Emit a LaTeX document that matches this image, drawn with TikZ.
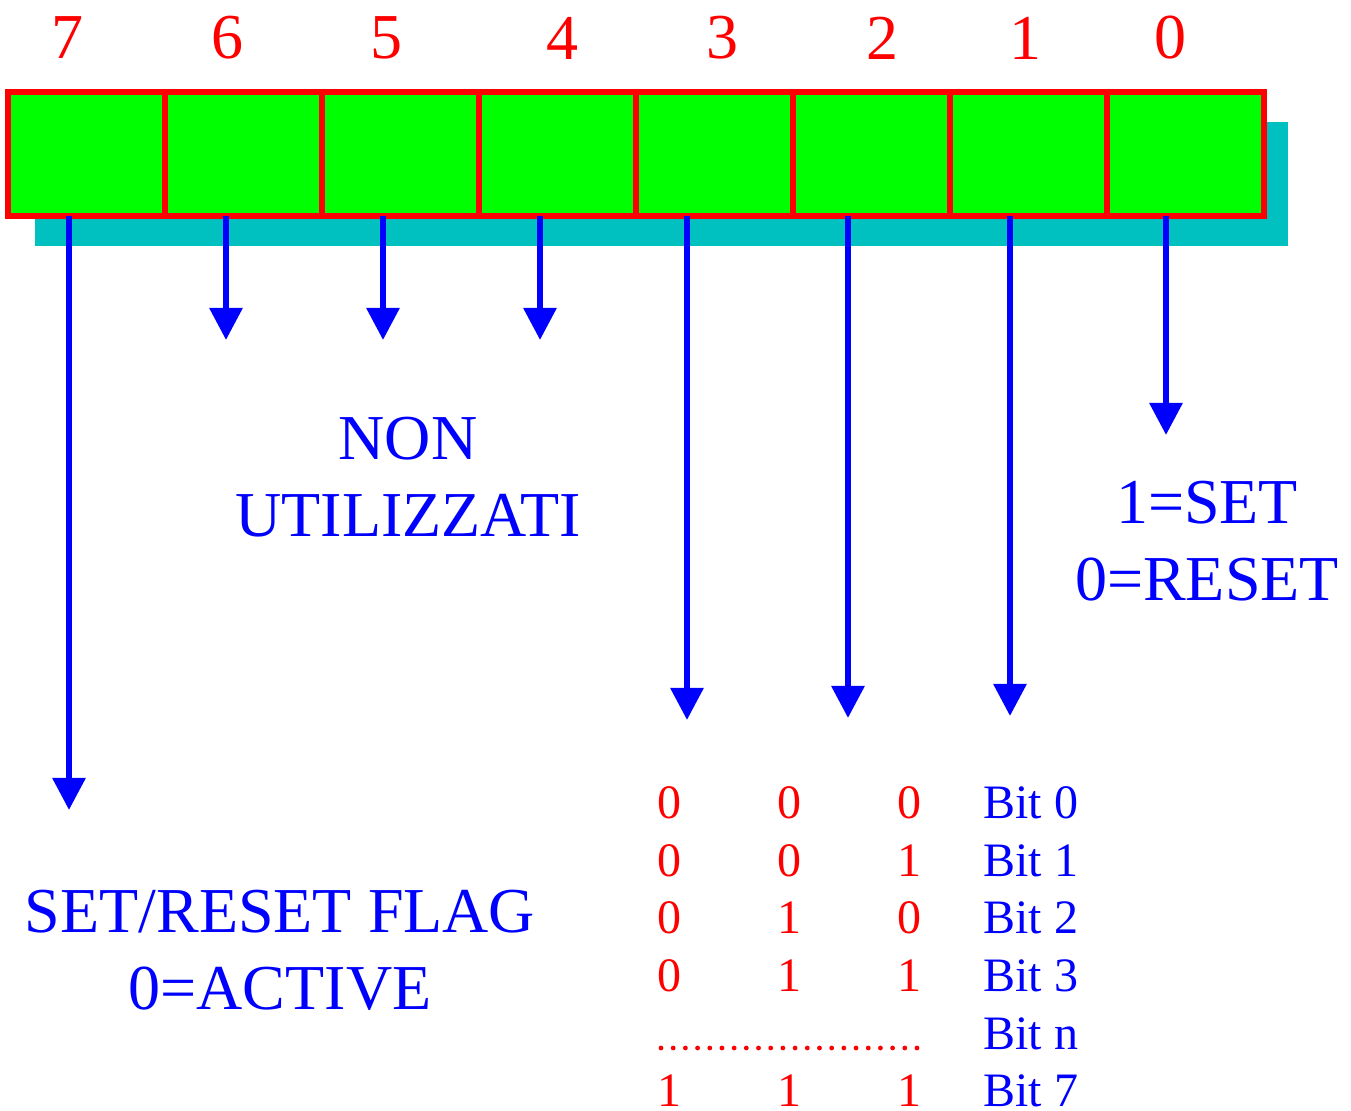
\documentclass[tikz,border=0pt]{standalone}
\usepackage{fontspec}
\setmainfont{Liberation Serif}
\usetikzlibrary{arrows.meta, positioning}
\definecolor{regred}{RGB}{255,0,0}
\definecolor{reggreen}{RGB}{0,255,0}
\definecolor{regshadow}{RGB}{0,192,192}
\definecolor{regblue}{RGB}{0,0,255}

\begin{document}
\begin{tikzpicture}[x=0.5pt, y=-0.5pt,
        cell/.style={draw=regred, fill=reggreen, line width=3pt, minimum width=78.5pt, minimum height=62pt, inner sep=0pt, outer sep=0pt},
        bitnum/.style={text=regred, font=\fontsize{32}{38}\selectfont},
        note/.style={text=regblue, align=center, font=\fontsize{32}{38.5}\selectfont},
        arr/.style={draw=regblue, line width=3pt, -{Triangle[width=16pt,length=16pt]}},
        tab/.style={text=regred, font=\fontsize{24}{28}\selectfont},
        bitname/.style={text=regblue, anchor=west, inner sep=0pt, font=\fontsize{24}{28}\selectfont}
    ]
        \useasboundingbox (0,0) rectangle (1351,1111);

        % Shadow
        \fill[regshadow] (35,122) rectangle (1288,246);

        % Register cells
        \foreach \b/\x in {7/86.5, 6/243.5, 5/400.5, 4/557.5, 3/714.5, 2/871.5, 1/1028.5, 0/1185.5}
            \node[cell] (c\b) at (\x,154) {};

        % Bit numbers
        \foreach \b/\x in {7/68, 6/227, 5/386, 4/562, 3/722, 2/882, 1/1025, 0/1170}
            \node[bitnum] (n\b) at (\x,38) {\b};

        % Arrows
        \foreach \b/\x/\y in {7/69/810, 6/226/340, 5/383/340, 4/540/340, 3/687/720, 2/848/718, 1/1010/716, 0/1166/435} {
            \coordinate (e\b) at (\x,\y);
            \draw[arr] (c\b.south -| e\b) -- (e\b);
        }

        % Labels
        \node[note] (unused) at (408,477) {NON\\UTILIZZATI};
        \node[note] (setreset) at (1207,541) {1=SET\\0=RESET};
        \node[note] (flag) at (280,950) {SET/RESET FLAG\\0=ACTIVE};

        % Table
        \foreach \r/\y/\p/\q/\s in {0/803/0/0/0, 1/861/0/0/1, 2/918/0/1/0, 3/976/0/1/1, 7/1091/1/1/1} {
            \node[tab] (ta\r) at (669,\y) {\p};
            \node[tab] (tb\r) at (789,\y) {\q};
            \node[tab] (tc\r) at (909,\y) {\s};
            \node[bitname] (bit\r) at (983,\y) {Bit \r};
        }
        \node[bitname] (bitn) at (983,1034) {Bit n};
        \coordinate (d1) at (661,1048);
        \coordinate (d2) at (917,1048);
        \draw[regred, line width=2.4pt, line cap=round, dash pattern=on 0pt off 6.095pt] (d1) -- (d2);
    \end{tikzpicture}
\end{document}
